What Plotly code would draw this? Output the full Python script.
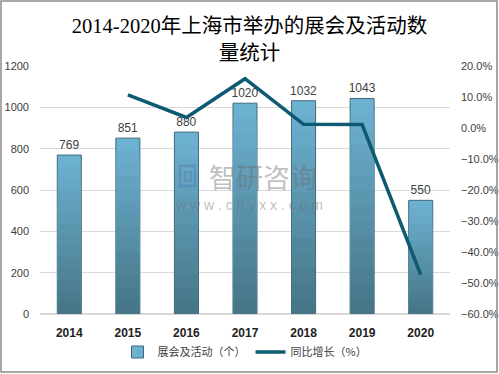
import plotly.graph_objects as go

years = ["2014", "2015", "2016", "2017", "2018", "2019", "2020"]
events = [769, 851, 880, 1020, 1032, 1043, 550]
growth_pct = [None, 10.7, 3.4, 15.9, 1.2, 1.1, -47.3]

title_text = "2014-2020年上海市举办的展会及活动数<br>量统计"
bar_name = "展会及活动（个）"
line_name = "同比增长（%）"

W, H = 499, 374
L, R, T, B = 40, 49, 66, 60
pw, ph = W - L - R, H - T - B


def px_x(x):
    return (x - L) / pw


def px_y(y):
    return (T + ph - y) / ph


def mix(c1, c2, t):
    a = [int(c1[i:i + 2], 16) for i in (1, 3, 5)]
    b = [int(c2[i:i + 2], 16) for i in (1, 3, 5)]
    return "rgb(%d,%d,%d)" % tuple(round(a[k] + (b[k] - a[k]) * t) for k in range(3))


TOP_C, BOT_C = "#6db1d1", "#467688"

fig = go.Figure()
fig.add_trace(go.Bar(
    x=years, y=events, name=bar_name,
    marker=dict(color=TOP_C, line=dict(color="#3d6a7e", width=1)),
    width=0.41,
    text=[str(v) for v in events], textposition="outside", constraintext="none",
    textfont=dict(size=12, color="#404040", family="Liberation Sans, Arial"),
    cliponaxis=False,
))
N = 14
for i in range(1, N):
    frac = (N - i) / N
    fig.add_trace(go.Bar(
        x=years, y=[v * frac for v in events], showlegend=False, hoverinfo="skip",
        marker=dict(color=mix(TOP_C, BOT_C, i / (N - 1)), line=dict(width=0)),
        width=0.39,
    ))
fig.add_trace(go.Scatter(
    x=years, y=[g / 100 if g is not None else None for g in growth_pct],
    name=line_name, yaxis="y2", mode="lines",
    line=dict(color="#0d5a72", width=3.5),
))

fig.update_layout(
    width=W, height=H,
    margin=dict(l=L, r=R, t=T, b=B, autoexpand=False),
    paper_bgcolor="white", plot_bgcolor="white",
    barmode="overlay",
    font=dict(family="Noto Sans CJK SC, sans-serif", color="#404040"),
    title=dict(text=title_text, x=0.5, xanchor="center", y=1 - 33 / H, yanchor="middle",
               font=dict(size=20.5, color="#000000", family="Liberation Serif, Noto Sans CJK SC")),
    showlegend=True,
    legend=dict(orientation="h", x=0.5, xanchor="center", y=px_y(352),
                yanchor="middle", font=dict(size=11, color="#404040", family="Noto Sans CJK SC"),
                itemwidth=30, traceorder="normal", bgcolor="rgba(0,0,0,0)"),
    xaxis=dict(showgrid=False, showline=False, ticks="", automargin=False,
               tickfont=dict(size=12, color="#222222", family="Liberation Sans, Arial", weight="bold"),
               ticklabelstandoff=10),
    yaxis=dict(range=[0, 1200], dtick=200, showgrid=True, gridcolor="#d9d9d9", gridwidth=1,
               zeroline=True, zerolinecolor="#d9d9d9", showline=False, automargin=False,
               tickfont=dict(size=11, color="#404040", family="Liberation Sans, Arial"),
               ticklabelstandoff=10),
    yaxis2=dict(range=[-0.6, 0.2], dtick=0.1, tickformat=".1%", overlaying="y", side="right",
                showgrid=False, zeroline=False, showline=False, automargin=False,
                tickfont=dict(size=11, color="#404040", family="Liberation Sans, Arial"),
                ticklabelstandoff=10),
)

# outer border
fig.add_shape(type="rect", xref="paper", yref="paper",
              x0=px_x(1), x1=px_x(W - 2), y0=px_y(H - 2), y1=px_y(1),
              line=dict(color="#8c8c8c", width=1.5), fillcolor="rgba(0,0,0,0)", layer="above")

# watermark logo
fig.add_shape(type="rect", xref="paper", yref="paper",
              x0=px_x(180), x1=px_x(195), y0=px_y(186), y1=px_y(166),
              line=dict(color="rgba(90,130,180,0.55)", width=2.5), fillcolor="rgba(0,0,0,0)", layer="above")
fig.add_shape(type="rect", xref="paper", yref="paper",
              x0=px_x(185), x1=px_x(191), y0=px_y(181), y1=px_y(172),
              line=dict(color="rgba(90,130,180,0.55)", width=2), fillcolor="rgba(0,0,0,0)", layer="above")
# watermark text
fig.add_annotation(xref="paper", yref="paper", x=px_x(263), y=px_y(176),
                   text="智研咨询", showarrow=False,
                   font=dict(size=27, color="rgba(110,110,110,0.45)", family="Noto Sans CJK SC"))
fig.add_annotation(xref="paper", yref="paper", x=px_x(249), y=px_y(205),
                   text="w w w . c h y x x . c o m", showarrow=False,
                   font=dict(size=14, color="rgba(110,110,110,0.45)", family="Liberation Sans"))

fig.write_html("out.html", config={"displayModeBar": False},
               post_script="document.body.style.margin='0px';document.body.style.overflow='hidden';")
